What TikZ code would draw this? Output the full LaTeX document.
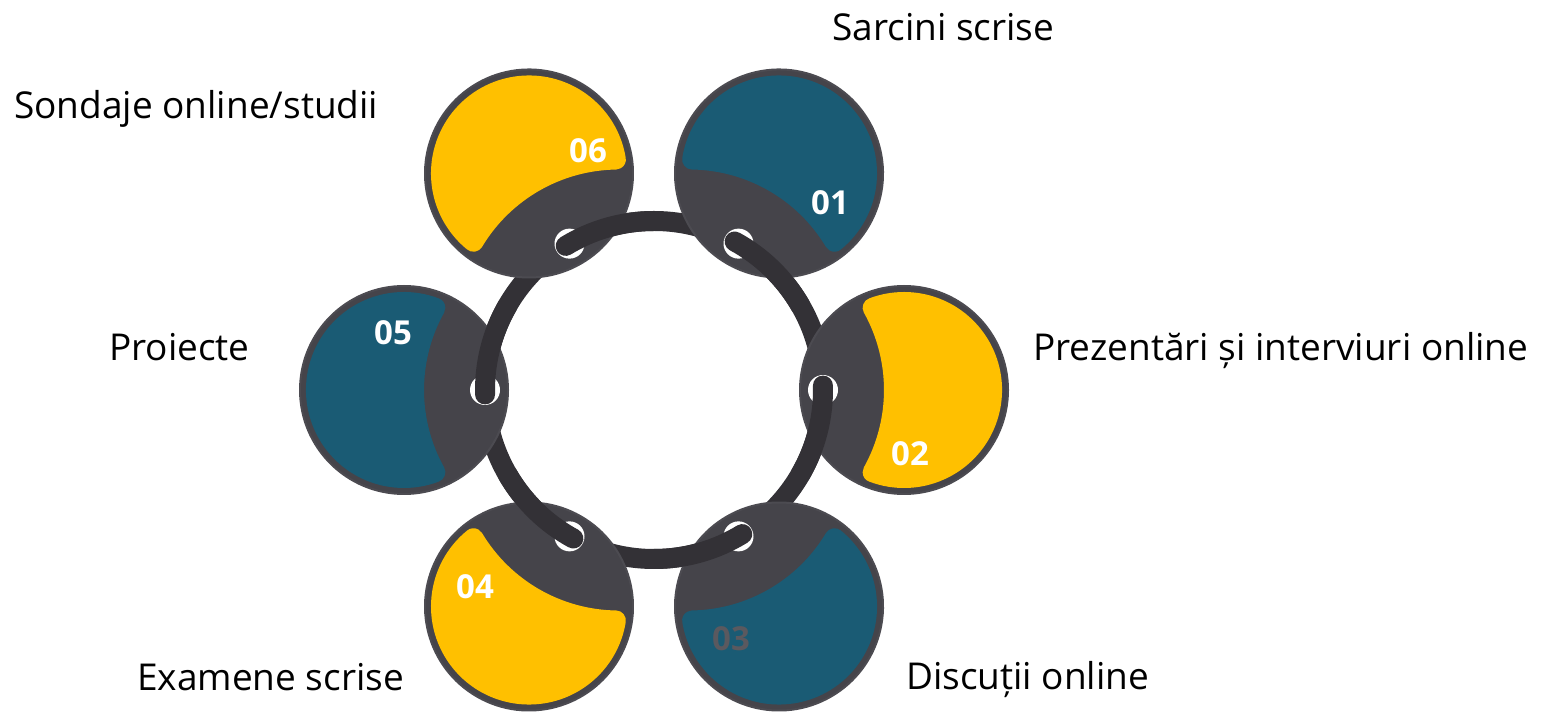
\documentclass[tikz,border=0pt]{standalone}
\usepackage{fontspec}
\setmainfont{Open Sans}
\usetikzlibrary{calc}
\definecolor{ringc}{HTML}{333136}
\definecolor{darkp}{HTML}{45444A}
\definecolor{edgep}{HTML}{4C4B51}
\definecolor{yel}{HTML}{FFC000}
\definecolor{tealc}{HTML}{1A5B74}
\definecolor{numgrey}{HTML}{5A595F}
\begin{document}
\begin{tikzpicture}[x=1pt,y=1pt,
  ringline/.style={draw=ringc, line width=20pt},
  disc/.style={fill=darkp, draw=edgep, line width=2pt},
  lbl/.style={font=\fontsize{37}{44}\selectfont, inner sep=0pt, anchor=base west, text=black},
  num/.style={font=\fontsize{33}{40}\selectfont\bfseries, inner sep=0pt, text=white}]
\useasboundingbox (0,0) rectangle (1550,712);
\coordinate (O) at (654,322);
\draw[ringline] (O) circle[radius=169];
\foreach \a/\c in {60/tealc,0/yel,-60/tealc,-120/yel,180/tealc,120/yel}{
  \begin{scope}[shift={($(O)+(\a:250)$)}, rotate=\a]
    \path[disc] (0,0) circle[radius=104];
    \path[fill=\c, draw=\c, line width=20pt, line join=round]
      (-31.35,-82.2) arc[start angle=-110.9, end angle=110.9, radius=88]
      arc[start angle=29.1, end angle=-29.1, radius=169] -- cycle;
  \end{scope}
}
\foreach \a in {60,0,-60,-120,180,120}{
  \fill[white] ($(O)+(\a:169)$) circle[radius=15];
  \draw[ringline, line cap=round] ($(O)+(\a+1.5:169)$) arc[start angle=\a+1.5, end angle=\a-30, radius=169];
}
\node[num] (n01) at (830,509) {01};
\node[num] (n02) at (910,258) {02};
\node[num, text=numgrey] (n03) at (731,73) {03};
\node[num] (n04) at (475,125) {04};
\node[num] (n05) at (393,379) {05};
\node[num] (n06) at (588,561) {06};
\node[lbl] (l01) at (832,671) {Sarcini scrise};
\node[lbl] (l02) at (1033,351) {Prezentări și interviuri online};
\node[lbl] (l03) at (906,22) {Discuții online};
\node[lbl] (l04) at (137,21) {Examene scrise};
\node[lbl] (l05) at (109,351) {Proiecte};
\node[lbl] (l06) at (14,593) {Sondaje online/studii};
\end{tikzpicture}
\end{document}
